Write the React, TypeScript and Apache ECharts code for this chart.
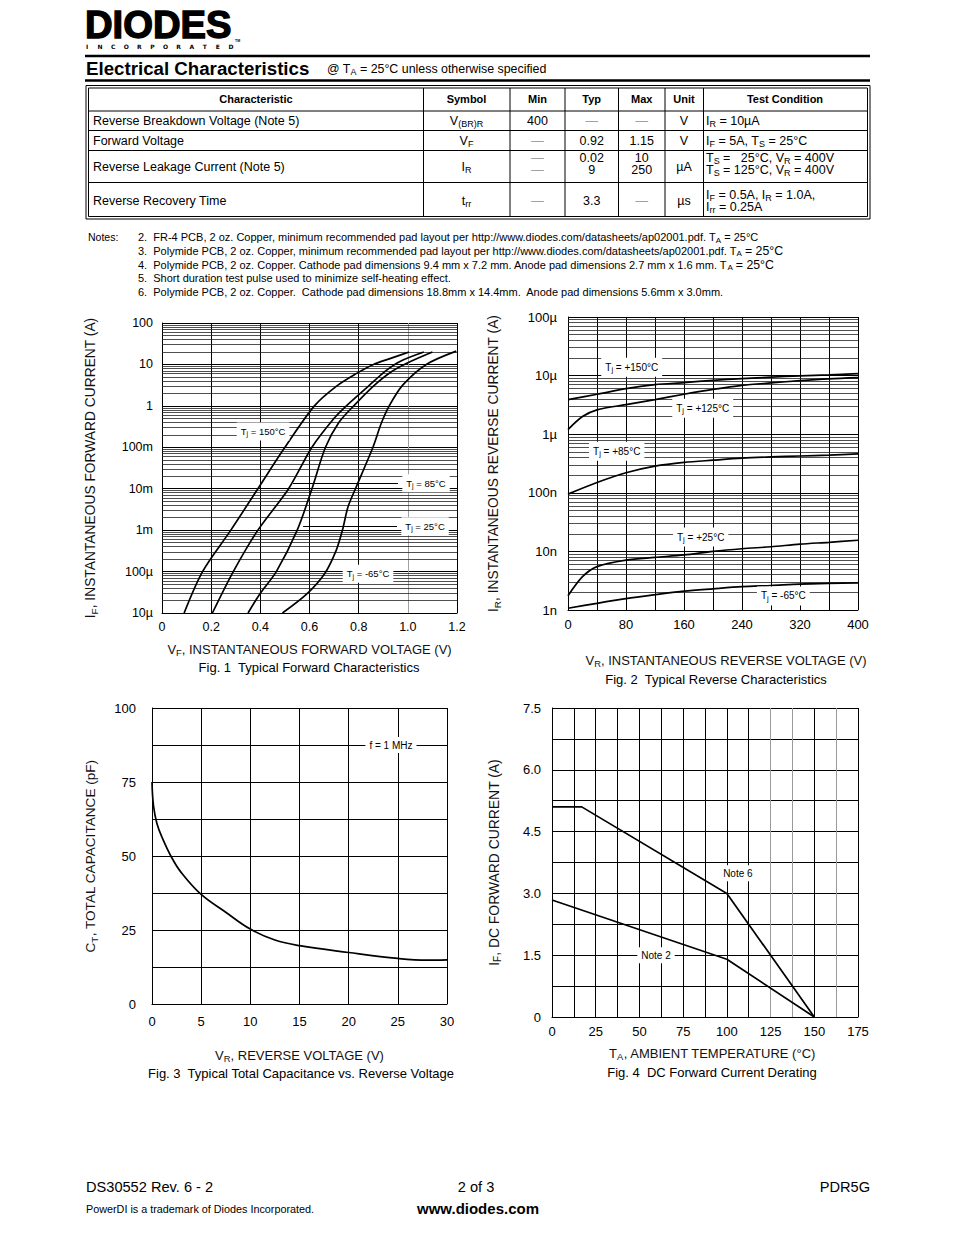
import React, { useEffect, useRef } from 'react';
import * as echarts from 'echarts';

const FONT = '"Liberation Sans", Arial, Helvetica, sans-serif';

// ---------------- Fig. 1 : Typical Forward Characteristics ----------------
const fig1XTicks = ['0', '0.2', '0.4', '0.6', '0.8', '1.0', '1.2'];
const fig1YTicks = ['10µ', '100µ', '1m', '10m', '100m', '1', '10', '100'];
const fig1Tj150 = [[0.09, 1e-5], [0.165, 1e-4], [0.28, 1e-3], [0.39, 1e-2], [0.5, 0.1], [0.62, 1], [0.71, 3], [0.79, 6], [0.86, 10], [0.93, 14], [1.005, 20]];
const fig1Tj85 = [[0.205, 1e-5], [0.29, 1e-4], [0.39, 1e-3], [0.515, 1e-2], [0.61, 0.1], [0.7, 0.5], [0.75, 1], [0.84, 3], [0.91, 7], [0.97, 12], [1.065, 20]];
const fig1Tj25 = [[0.35, 1e-5], [0.4, 3e-5], [0.465, 1e-4], [0.55, 1e-3], [0.61, 1e-2], [0.665, 0.1], [0.72, 0.4], [0.78, 1], [0.86, 3], [0.93, 6.5], [1.0, 11], [1.1, 20]];
const fig1TjM65 = [[0.49, 1e-5], [0.587, 2.8e-5], [0.662, 9e-5], [0.709, 3.3e-4], [0.734, 1e-3], [0.757, 3.7e-3], [0.79, 0.011], [0.858, 0.1], [0.892, 0.38], [0.926, 1.04], [0.98, 3.2], [1.075, 10], [1.197, 21]];
const fig1Notes = [
  { name: 'T{s|j} = 150°C', coord: [0.411, 0.242] },
  { name: 'T{s|j} = 85°C', coord: [1.074, 0.0135] },
  { name: 'T{s|j} = 25°C', coord: [1.07, 1.25e-3] },
  { name: 'T{s|j} = -65°C', coord: [0.838, 8.9e-5] },
];
const fig1Arrows = [
  [[0.96, 0.0135], [0.533, 0.0135]],
  [[0.956, 1.23e-3], [0.574, 1.23e-3]],
];

// ---------------- Fig. 2 : Typical Reverse Characteristics ----------------
const fig2XTicks = ['0', '', '80', '', '160', '', '240', '', '320', '', '400'];
const fig2YTicks = ['1n', '10n', '100n', '1µ', '10µ', '100µ'];
const fig2Tj150 = [[0, 3.9e-6], [40, 4.8e-6], [80, 6.0e-6], [120, 7.0e-6], [160, 7.6e-6], [200, 8.3e-6], [240, 8.9e-6], [280, 9.4e-6], [320, 9.9e-6], [360, 1.03e-5], [400, 1.08e-5]];
const fig2Tj125 = [[0, 1.2e-6], [20, 2.0e-6], [40, 2.6e-6], [80, 3.2e-6], [120, 3.9e-6], [160, 4.8e-6], [200, 5.8e-6], [240, 6.8e-6], [280, 7.5e-6], [320, 8.2e-6], [360, 8.8e-6], [400, 9.2e-6]];
const fig2Tj85 = [[0, 9.5e-8], [40, 1.5e-7], [80, 2.2e-7], [120, 2.85e-7], [160, 3.3e-7], [200, 3.6e-7], [240, 3.9e-7], [280, 4.1e-7], [320, 4.25e-7], [360, 4.4e-7], [400, 4.6e-7]];
const fig2Tj25 = [[0, 1.75e-9], [20, 3.7e-9], [40, 5.5e-9], [80, 7.1e-9], [120, 7.9e-9], [160, 8.7e-9], [200, 1.0e-8], [240, 1.11e-8], [280, 1.2e-8], [320, 1.33e-8], [360, 1.43e-8], [400, 1.55e-8]];
const fig2TjM65 = [[0, 1.07e-9], [40, 1.3e-9], [80, 1.56e-9], [120, 1.82e-9], [160, 2.1e-9], [200, 2.3e-9], [240, 2.5e-9], [280, 2.62e-9], [320, 2.77e-9], [360, 2.85e-9], [400, 2.9e-9]];
const fig2Notes = [
  { name: 'T{s|j} = +150°C', coord: [87.9, 1.39e-5] },
  { name: 'T{s|j} = +125°C', coord: [185.8, 2.78e-6] },
  { name: 'T{s|j} = +85°C', coord: [67.2, 5.1e-7] },
  { name: 'T{s|j} = +25°C', coord: [183, 1.76e-8] },
  { name: 'T{s|j} = -65°C', coord: [297, 1.74e-9] },
];

// ---------------- Fig. 3 : Total Capacitance ----------------
const fig3XTicks = ['0', '5', '10', '15', '20', '25', '30'];
const fig3YTicks = ['0', '', '25', '', '50', '', '75', '', '100'];
const fig3Cap = [[0, 75], [0.15, 67], [0.5, 61], [1, 56.5], [2, 49.5], [3, 44.3], [5, 37], [7.5, 31], [10, 25.3], [12.5, 21.6], [15, 19.7], [20, 17.4], [25, 15.4], [28, 14.8], [30, 14.9]];
const fig3Notes = [{ name: 'f = 1 MHz', coord: [24.3, 87.5] }];

// ---------------- Fig. 4 : DC Forward Current Derating ----------------
const fig4XTicks = ['0', '', '25', '', '50', '', '75', '', '100', '', '125', '', '150', '', '175'];
const fig4YTicks = ['0', '', '1.5', '', '3.0', '', '4.5', '', '6.0', '', '7.5'];
const fig4Note6 = [[0, 5.1], [17, 5.1], [100, 3.0], [150, 0]];
const fig4Note2 = [[0, 2.84], [100, 1.4], [150, 0]];
const fig4Notes = [
  { name: 'Note 6', coord: [106.3, 3.49] },
  { name: 'Note 2', coord: [59.5, 1.5] },
];

// ---------------- Table ----------------
const tableHeaders = ['Characteristic', 'Symbol', 'Min', 'Typ', 'Max', 'Unit', 'Test Condition'];
const characteristics = ['Reverse Breakdown Voltage (Note 5)', 'Forward Voltage', 'Reverse Leakage Current (Note 5)', 'Reverse Recovery Time'];
const symbols = ['V{s|(BR)R}', 'V{s|F}', 'I{s|R}', 't{s|rr}'];
const minVals = ['400', '—', '—\n—', '—'];
const typVals = ['—', '0.92', '0.02\n9', '3.3'];
const maxVals = ['—', '1.15', '10\n250', '—'];
const units = ['V', 'V', 'µA', 'µs'];
const conditions = [
  'I{s|R} = 10µA',
  'I{s|F} = 5A, T{s|S} = 25°C',
  'T{s|S} =   25°C, V{s|R} = 400V\nT{s|S} = 125°C, V{s|R} = 400V',
  'I{s|F} = 0.5A, I{s|R} = 1.0A,\nI{s|rr} = 0.25A',
];
const notesLines = [
  '2.  FR-4 PCB, 2 oz. Copper, minimum recommended pad layout per http://www.diodes.com/datasheets/ap02001.pdf. T{s|A} = 25°C',
  '3.  Polymide PCB, 2 oz. Copper, minimum recommended pad layout per http://www.diodes.com/datasheets/ap02001.pdf. T{s|A} {b|= 25°C}',
  '4.  Polymide PCB, 2 oz. Copper. Cathode pad dimensions 9.4 mm x 7.2 mm. Anode pad dimensions 2.7 mm x 1.6 mm. T{s|A} {b|= 25°C}',
  '5.  Short duration test pulse used to minimize self-heating effect.',
  '6.  Polymide PCB, 2 oz. Copper.  Cathode pad dimensions 18.8mm x 14.4mm.  Anode pad dimensions 5.6mm x 3.0mm.',
];

// ---------------- helpers ----------------
function gText(x: number, y: number, text: string, size = 12, o: any = {}) {
  const color = o.color || '#000';
  const sub = o.sub || size * 0.72;
  return {
    type: 'text', x, y, silent: true, z: 10,
    scaleX: o.scaleX || 1, scaleY: o.scaleY || 1,
    style: {
      text, fill: color, fontSize: size, fontFamily: o.family || FONT, fontWeight: o.weight || 'normal',
      align: o.align || 'left', textAlign: o.align || 'left',
      verticalAlign: 'middle', textVerticalAlign: 'middle',
      lineHeight: o.lineHeight,
      stroke: o.stroke, lineWidth: o.strokeWidth,
      rich: {
        s: { fontSize: sub, fontFamily: FONT, fill: color, padding: [Math.round(size * 0.55), 0, 0, 0], lineHeight: o.lineHeight },
        b: { fontSize: size * 1.12, fontFamily: FONT, fill: color, lineHeight: o.lineHeight },
      },
    },
  };
}
function gLine(x1: number, y1: number, x2: number, y2: number, w = 1, color = '#000') {
  return { type: 'line', silent: true, z: 5, shape: { x1, y1, x2, y2 }, style: { stroke: color, lineWidth: w } };
}
function gRect(x: number, y: number, width: number, height: number) {
  return { type: 'rect', silent: true, z: 5, shape: { x, y, width, height }, style: { fill: 'none', stroke: '#000', lineWidth: 1 } };
}

const nameStyle = (size: number, extra: any = {}) => ({
  color: '#111', fontSize: size, fontFamily: FONT,
  rich: { s: { color: '#111', fontSize: size * 0.72, fontFamily: FONT, padding: [7, 0, 0, 0] } },
  ...extra,
});
const tickStyle = (size: number, margin: number, formatter: any) => ({
  color: '#000', fontSize: size, fontFamily: FONT, margin, formatter,
});
const blackLine = { show: true, lineStyle: { color: '#000', width: 1 } };

const minorDecades = (decades: number[]) => {
  const out: any[] = [];
  decades.forEach((e) => {
    for (let k = 2; k <= 9; k++) out.push({ yAxis: k * Math.pow(10, e) });
  });
  return out;
};
const minorGrid = (decades: number[]) => ({
  silent: true, z: 1, symbol: ['none', 'none'], precision: 20,
  label: { show: false }, emphasis: { disabled: true },
  lineStyle: { color: '#222', width: 0.8, type: 'solid' },
  data: minorDecades(decades),
});
const notePoints = (notes: any[], size: number, sub: number, pad: number) => ({
  silent: true, z: 10, symbol: 'rect', symbolSize: 1,
  itemStyle: { color: 'rgba(0,0,0,0)' },
  label: {
    show: true, position: 'inside', formatter: (p: any) => p.name,
    color: '#000', fontSize: size, fontFamily: FONT, backgroundColor: '#fff', padding: [3, 4, 3, 4],
    rich: { s: { color: '#000', fontSize: sub, fontFamily: FONT, padding: [pad, 0, 0, 0] } },
  },
  data: notes.map((n) => ({ name: n.name, coord: n.coord })),
});
const curve = (data: number[][], idx: number, extra: any = {}) => ({
  type: 'line', xAxisIndex: idx, yAxisIndex: idx, data, symbol: 'none', showSymbol: false,
  smooth: 0.3, silent: true, z: 2, lineStyle: { color: '#000', width: 1.7 }, ...extra,
});

function buildOption() {
  const graphics: any[] = [];
  // Logo
  graphics.push(gText(85, 24, 'DIODES', 39, { weight: 'bold', stroke: '#000', strokeWidth: 1.4, scaleX: 0.98 }));
  'INCORPORATED'.split('').forEach((ch, i) => {
    graphics.push(gText(87 + i * (144 / 11), 46, ch, 6, { weight: 'bold', family: '"DejaVu Sans", sans-serif', align: 'center' }));
  });
  graphics.push(gText(235, 41, 'TM', 3.5, { weight: 'bold' }));
  graphics.push(gLine(85, 56, 870, 56, 2.5));
  graphics.push(gText(86, 68.5, 'Electrical Characteristics', 18.7, { weight: 'bold' }));
  graphics.push(gText(327, 68.5, '@ T{s|A} = 25°C unless otherwise specified', 12.4));
  graphics.push(gLine(85, 80.5, 870, 80.5, 2.5));

  // Table borders
  graphics.push(gRect(86, 85.5, 784, 133.5));
  graphics.push(gRect(88.5, 88, 779, 128.5));
  [111, 130.5, 150.5, 182.5].forEach((y) => graphics.push(gLine(88.5, y, 867.5, y)));
  [423.5, 510, 565, 618.5, 665, 703.5].forEach((x) => graphics.push(gLine(x, 88, x, 216.5)));
  const headX = [256, 466.5, 537.5, 591.7, 641.7, 684, 785];
  tableHeaders.forEach((h, i) => graphics.push(gText(headX[i], 98.5, h, 11, { weight: 'bold', align: 'center' })));
  const rowY = [120.5, 140.5, 166.5, 200.5];
  const multiY = [120.5, 140.5, 163.8, 200.8];
  const dashColor = '#a0a0a0';
  characteristics.forEach((c, r) => {
    graphics.push(gText(93, rowY[r], c, 12.5));
    graphics.push(gText(466.5, rowY[r], symbols[r], 12.5, { align: 'center', sub: 9 }));
    const cells = [minVals[r], typVals[r], maxVals[r]];
    const cx = [537.5, 591.7, 641.7];
    cells.forEach((v, k) => {
      const isDash = v.replace(/[—\n]/g, '') === '';
      graphics.push(gText(cx[k], multiY[r], v, 12.5, { align: 'center', lineHeight: 12, color: isDash ? dashColor : '#000' }));
    });
    graphics.push(gText(684, rowY[r], units[r], 12.5, { align: 'center' }));
    graphics.push(gText(706, multiY[r], conditions[r], 12.5, { lineHeight: 12, sub: 9 }));
  });

  // Notes
  graphics.push(gText(88, 237, 'Notes:', 10.5));
  notesLines.forEach((t, i) => graphics.push(gText(138, 237 + i * 13.8, t, 11, { sub: 8 })));

  // Captions
  graphics.push(gText(309, 667, 'Fig. 1  Typical Forward Characteristics', 13, { align: 'center' }));
  graphics.push(gText(716, 679, 'Fig. 2  Typical Reverse Characteristics', 13, { align: 'center' }));
  graphics.push(gText(301, 1073, 'Fig. 3  Typical Total Capacitance vs. Reverse Voltage', 13, { align: 'center' }));
  graphics.push(gText(712, 1072, 'Fig. 4  DC Forward Current Derating', 13, { align: 'center' }));

  // Footer
  graphics.push(gText(86, 1187, 'DS30552 Rev. 6 - 2', 14.6));
  graphics.push(gText(476, 1187, '2 of 3', 14.6, { align: 'center' }));
  graphics.push(gText(870, 1187, 'PDR5G', 14.6, { align: 'right' }));
  graphics.push(gText(86, 1209, 'PowerDI is a trademark of Diodes Incorporated.', 10.8));
  graphics.push(gText(478, 1208, 'www.diodes.com', 15, { align: 'center', weight: 'bold' }));

  const fig1XColors = fig1XTicks.map((t) => (t === '1.0' ? '#a0a0a0' : '#000'));
  const fig4XColors = fig4XTicks.map((_, i) => ([10, 11, 13].includes(i) ? '#9a9a9a' : '#000'));

  return {
    animation: false,
    backgroundColor: '#fff',
    textStyle: { fontFamily: FONT },
    grid: [
      { left: 162, top: 323, width: 295, height: 290, containLabel: false, outerBoundsMode: 'none' },
      { left: 568, top: 317, width: 290, height: 293, containLabel: false, outerBoundsMode: 'none' },
      { left: 152, top: 708, width: 295, height: 296, containLabel: false, outerBoundsMode: 'none' },
      { left: 552, top: 708, width: 306, height: 309, containLabel: false, outerBoundsMode: 'none' },
    ],
    xAxis: [
      {
        gridIndex: 0, type: 'value', min: 0, max: 1.2, interval: 0.2,
        axisLine: blackLine, axisTick: { show: false },
        axisLabel: tickStyle(12.5, 7, (v: number) => fig1XTicks[Math.round(v / 0.2)] ?? ''),
        splitLine: { show: true, lineStyle: { color: fig1XColors, width: 1 } },
        name: 'V{s|F}, INSTANTANEOUS FORWARD VOLTAGE (V)', nameLocation: 'middle', nameGap: 28,
        nameMoveOverlap: false, nameTextStyle: nameStyle(13),
      },
      {
        gridIndex: 1, type: 'value', min: 0, max: 400, interval: 40,
        axisLine: blackLine, axisTick: { show: false },
        axisLabel: tickStyle(13, 8, (v: number) => fig2XTicks[Math.round(v / 40)] ?? ''),
        splitLine: blackLine,
        name: 'V{s|R}, INSTANTANEOUS REVERSE VOLTAGE (V)', nameLocation: 'middle', nameGap: 42,
        nameMoveOverlap: false, nameTextStyle: nameStyle(13, { padding: [0, 0, 0, 26] }),
      },
      {
        gridIndex: 2, type: 'value', min: 0, max: 30, interval: 5,
        axisLine: blackLine, axisTick: { show: false },
        axisLabel: tickStyle(13, 11, (v: number) => fig3XTicks[Math.round(v / 5)] ?? ''),
        splitLine: blackLine,
        name: 'V{s|R}, REVERSE VOLTAGE (V)', nameLocation: 'middle', nameGap: 43,
        nameMoveOverlap: false, nameTextStyle: nameStyle(13),
      },
      {
        gridIndex: 3, type: 'value', min: 0, max: 175, interval: 12.5,
        axisLine: blackLine, axisTick: { show: false },
        axisLabel: tickStyle(13, 8, (v: number) => fig4XTicks[Math.round(v / 12.5)] ?? ''),
        splitLine: { show: true, lineStyle: { color: fig4XColors, width: 1 } },
        name: 'T{s|A}, AMBIENT TEMPERATURE (°C)', nameLocation: 'middle', nameGap: 28,
        nameMoveOverlap: false, nameTextStyle: nameStyle(13, { padding: [0, 0, 0, 15] }),
      },
    ],
    yAxis: [
      {
        gridIndex: 0, type: 'log', logBase: 10, min: 1e-5, max: 100, splitNumber: 7,
        axisLine: blackLine, axisTick: { show: false },
        axisLabel: tickStyle(12.5, 9, (v: number) => fig1YTicks[Math.round(Math.log10(v)) + 5] ?? ''),
        splitLine: blackLine,
        name: 'I{s|F}, INSTANTANEOUS FORWARD CURRENT (A)', nameLocation: 'middle', nameRotate: 90, nameGap: 63,
        nameMoveOverlap: false, nameTextStyle: nameStyle(13.8),
      },
      {
        gridIndex: 1, type: 'log', logBase: 10, min: 1e-9, max: 1e-4, splitNumber: 5,
        axisLine: blackLine, axisTick: { show: false },
        axisLabel: tickStyle(13, 11, (v: number) => fig2YTicks[Math.round(Math.log10(v)) + 9] ?? ''),
        splitLine: blackLine,
        name: 'I{s|R}, INSTANTANEOUS REVERSE CURRENT (A)', nameLocation: 'middle', nameRotate: 90, nameGap: 66,
        nameMoveOverlap: false, nameTextStyle: nameStyle(13.8),
      },
      {
        gridIndex: 2, type: 'value', min: 0, max: 100, interval: 12.5,
        axisLine: blackLine, axisTick: { show: false },
        axisLabel: tickStyle(13, 16, (v: number) => fig3YTicks[Math.round(v / 12.5)] ?? ''),
        splitLine: blackLine,
        name: 'C{s|T}, TOTAL CAPACITANCE (pF)', nameLocation: 'middle', nameRotate: 90, nameGap: 53,
        nameMoveOverlap: false, nameTextStyle: nameStyle(13.6),
      },
      {
        gridIndex: 3, type: 'value', min: 0, max: 7.5, interval: 0.75,
        axisLine: blackLine, axisTick: { show: false },
        axisLabel: tickStyle(13, 11, (v: number) => fig4YTicks[Math.round(v / 0.75)] ?? ''),
        splitLine: blackLine,
        name: 'I{s|F}, DC FORWARD CURRENT (A)', nameLocation: 'middle', nameRotate: 90, nameGap: 50,
        nameMoveOverlap: false, nameTextStyle: nameStyle(13.9),
      },
    ],
    series: [
      curve(fig1Tj150, 0, { name: 'Tj = 150°C', markLine: minorGrid([-5, -4, -3, -2, -1, 0, 1]) }),
      curve(fig1Tj85, 0, {
        name: 'Tj = 85°C',
        markLine: {
          silent: true, z: 6, symbol: ['none', 'arrow'], symbolSize: [0, 7], precision: 20,
          label: { show: false }, emphasis: { disabled: true },
          lineStyle: { color: '#000', width: 1, type: 'solid' },
          data: fig1Arrows.map((a) => [{ coord: a[0] }, { coord: a[1] }]),
        },
      }),
      curve(fig1Tj25, 0, { name: 'Tj = 25°C', markPoint: notePoints(fig1Notes, 9.5, 7, 5) }),
      curve(fig1TjM65, 0, { name: 'Tj = -65°C' }),
      curve(fig2Tj150, 1, { name: 'Tj = +150°C', markLine: minorGrid([-9, -8, -7, -6, -5]), markPoint: notePoints(fig2Notes, 10, 7.5, 5) }),
      curve(fig2Tj125, 1, { name: 'Tj = +125°C' }),
      curve(fig2Tj85, 1, { name: 'Tj = +85°C' }),
      curve(fig2Tj25, 1, { name: 'Tj = +25°C' }),
      curve(fig2TjM65, 1, { name: 'Tj = -65°C' }),
      curve(fig3Cap, 2, { name: 'CT', smooth: 0.4, markPoint: notePoints(fig3Notes, 10, 7.5, 5) }),
      curve(fig4Note6, 3, { name: 'Note 6', smooth: false, markPoint: notePoints(fig4Notes, 10, 7.5, 5) }),
      curve(fig4Note2, 3, { name: 'Note 2', smooth: false }),
    ],
    graphic: { elements: graphics },
  };
}

export default function App() {
  const ref = useRef<HTMLDivElement>(null);
  useEffect(() => {
    if (!ref.current) return;
    const chart = echarts.init(ref.current, null, { renderer: 'svg', width: 954, height: 1235 });
    chart.setOption(buildOption() as any);
    return () => chart.dispose();
  }, []);
  return (
    <div
      ref={ref}
      style={{ position: 'absolute', left: 0, top: 0, width: 954, height: 1235, background: '#fff' }}
    />
  );
}
